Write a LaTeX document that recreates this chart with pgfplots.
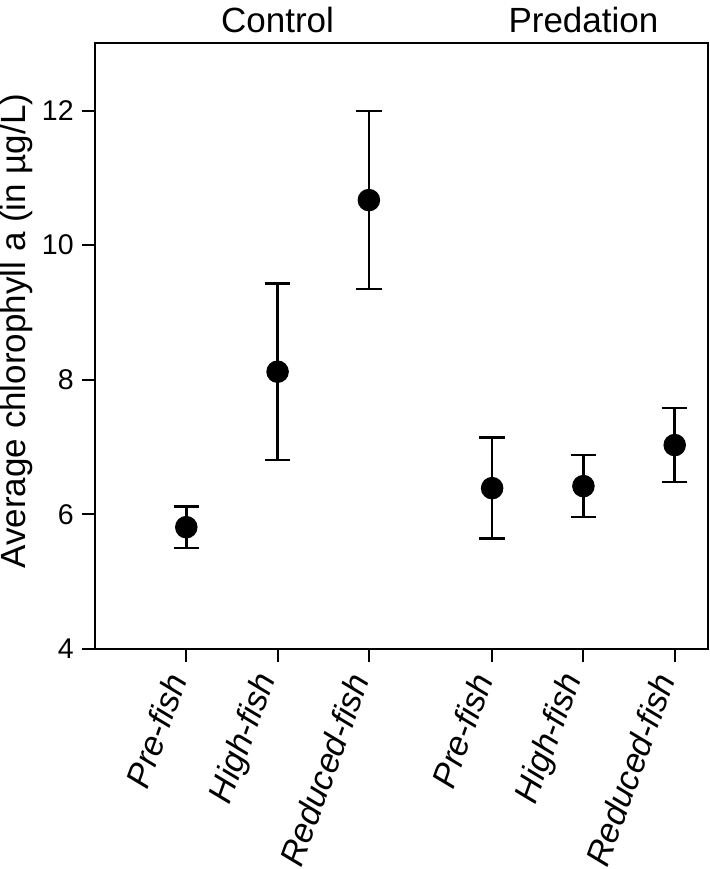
\documentclass[border=0pt]{standalone}
\usepackage{fontspec}
\setmainfont{Liberation Sans}
\usepackage{pgfplots}
\pgfplotsset{compat=1.18}
\begin{document}
\begin{tikzpicture}
\begin{axis}[
  name=ax,
  scale only axis, width=245.4pt, height=242.3pt,
  xmin=0, xmax=6.72, ymin=4, ymax=13,
  xtick={1,2,3,4.35,5.35,6.35},
  xticklabels={Pre-fish,High-fish,Reduced-fish,Pre-fish,High-fish,Reduced-fish},
  ytick={4,6,8,10,12},
  xtick pos=bottom, ytick pos=left, tick align=outside,
  major tick length=5pt,
  every tick/.style={black, line width=0.8pt},
  axis line style={line width=0.8pt},
  /pgf/number format/assume math mode=true,
  yticklabel style={font=\fontsize{11.4}{13}\selectfont},
  xticklabel style={font=\fontsize{13.7}{16}\selectfont\itshape, rotate=70, anchor=east, inner sep=0pt, xshift=-6.3pt, yshift=1.9pt},
  ylabel={Average chlorophyll a (in µg/L)},
  ylabel style={font=\fontsize{14}{16}\selectfont, at={(axis description cs:-0.114,0.525)}, anchor=base, rotate=0},
  clip=false,
]
\addplot[only marks, mark=*, mark size=4.3pt, black,
  error bars/.cd, y dir=both, y explicit,
  error bar style={line width=1pt},
  error mark options={rotate=90, line width=1pt, mark size=5.1pt}]
  coordinates {
  (1,5.81) +- (0,0.31)
  (2,8.12) +- (0,1.31)
  (3,10.67) +- (0,1.32)
  (4.35,6.39) +- (0,0.75)
  (5.35,6.42) +- (0,0.46)
  (6.35,7.03) +- (0,0.55)
};
\node[anchor=base, font=\fontsize{14}{16}\selectfont] at (axis cs:2,13) [yshift=4.4pt] {Control};
\node[anchor=base, font=\fontsize{14}{16}\selectfont] at (axis cs:5.35,13) [yshift=4.4pt] {Predation};
\end{axis}
\pgfresetboundingbox
\path (-38pt,-88pt) rectangle (245.6pt,259.6pt);
\end{tikzpicture}
\end{document}
